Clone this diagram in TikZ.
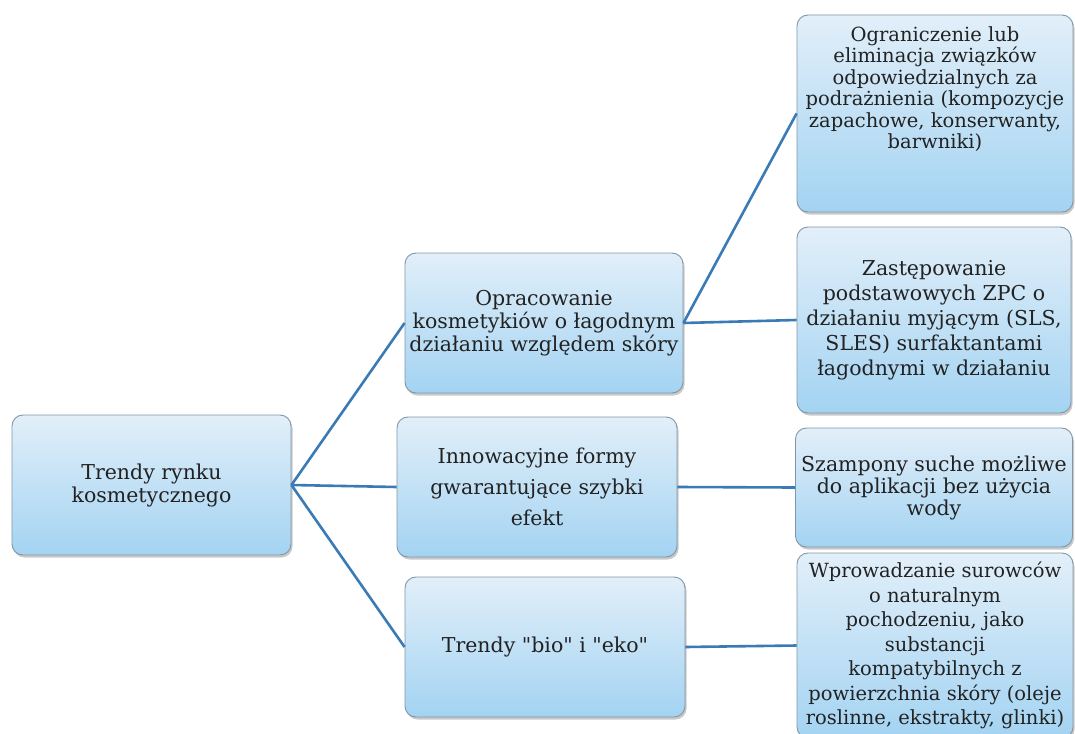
\documentclass[tikz,border=0pt]{standalone}
\usepackage{fontspec}
\newfontfamily\dvs{DejaVu Serif}
\setmainfont{DejaVu Serif}
\usetikzlibrary{shadows}
\definecolor{linec}{HTML}{3B7BB5}
\definecolor{boxtop}{HTML}{E2EFF9}
\definecolor{boxbot}{HTML}{A3D3F2}
\definecolor{boxline}{HTML}{8197A8}
\definecolor{txt}{HTML}{222222}
\newcommand{\fsz}[2]{\dvs\fontsize{#1}{#2}\selectfont}
\tikzset{
  box/.style={rectangle, rounded corners=11pt, draw=boxline, line width=0.9pt,
    top color=boxtop, bottom color=boxbot, align=center, inner sep=3pt, text=txt,
    drop shadow={shadow xshift=1.5pt, shadow yshift=-2.5pt, opacity=0.35, fill=black!60}},
  conn/.style={draw=linec, line width=2.6pt}
}
\begin{document}
\begin{tikzpicture}[x=1pt,y=-1pt]
\useasboundingbox[fill=white] (0,0) rectangle (1075,733);
\node[box, minimum width=279pt, minimum height=140pt, font=\fsz{20.5}{23}] (root) at (151.5,485) {Trendy rynku\\kosmetycznego};
\node[box, minimum width=278pt, minimum height=140pt, font=\fsz{20.5}{23}] (op) at (544,323) {Opracowanie\\kosmetykiów o łagodnym\\działaniu względem skóry};
\node[box, minimum width=280pt, minimum height=140pt, font=\fsz{20.5}{31}] (inn) at (537,487) {Innowacyjne formy\\gwarantujące szybki\\efekt};
\node[box, minimum width=280pt, minimum height=140pt, font=\fsz{20.5}{23}] (bio) at (545,647) {Trendy "bio" i "eko"};
\node[box, minimum width=276pt, minimum height=197pt, text depth=52pt, font=\fsz{19.5}{21.5}] (ogr) at (935,113.5) {Ograniczenie lub\\eliminacja związków\\odpowiedzialnych za\\podrażnienia (kompozycje\\zapachowe, konserwanty,\\barwniki)};
\node[box, minimum width=274pt, minimum height=186pt, font=\fsz{20.5}{25}] (zas) at (934,320) {Zastępowanie\\podstawowych ZPC o\\działaniu myjącym (SLS,\\SLES) surfaktantami\\łagodnymi w działaniu};
\node[box, minimum width=277pt, minimum height=119pt, font=\fsz{20.5}{22}] (sza) at (934,487.5) {Szampony suche możliwe\\do aplikacji bez użycia\\wody};
\node[box, minimum width=276pt, minimum height=185pt, font=\fsz{19.5}{24.5}] (wpr) at (935,645.5) {Wprowadzanie surowców\\o naturalnym\\pochodzeniu, jako\\substancji\\kompatybilnych z\\powierzchnia skóry (oleje\\roslinne, ekstrakty, glinki)};
\draw[conn] (root.east) -- (op.west);
\draw[conn] (root.east) -- (inn.west);
\draw[conn] (root.east) -- (bio.west);
\draw[conn] (op.east) -- (ogr.west);
\draw[conn] (op.east) -- (zas.west);
\draw[conn] (inn.east) -- (sza.west);
\draw[conn] (bio.east) -- (wpr.west);
\end{tikzpicture}
\end{document}
